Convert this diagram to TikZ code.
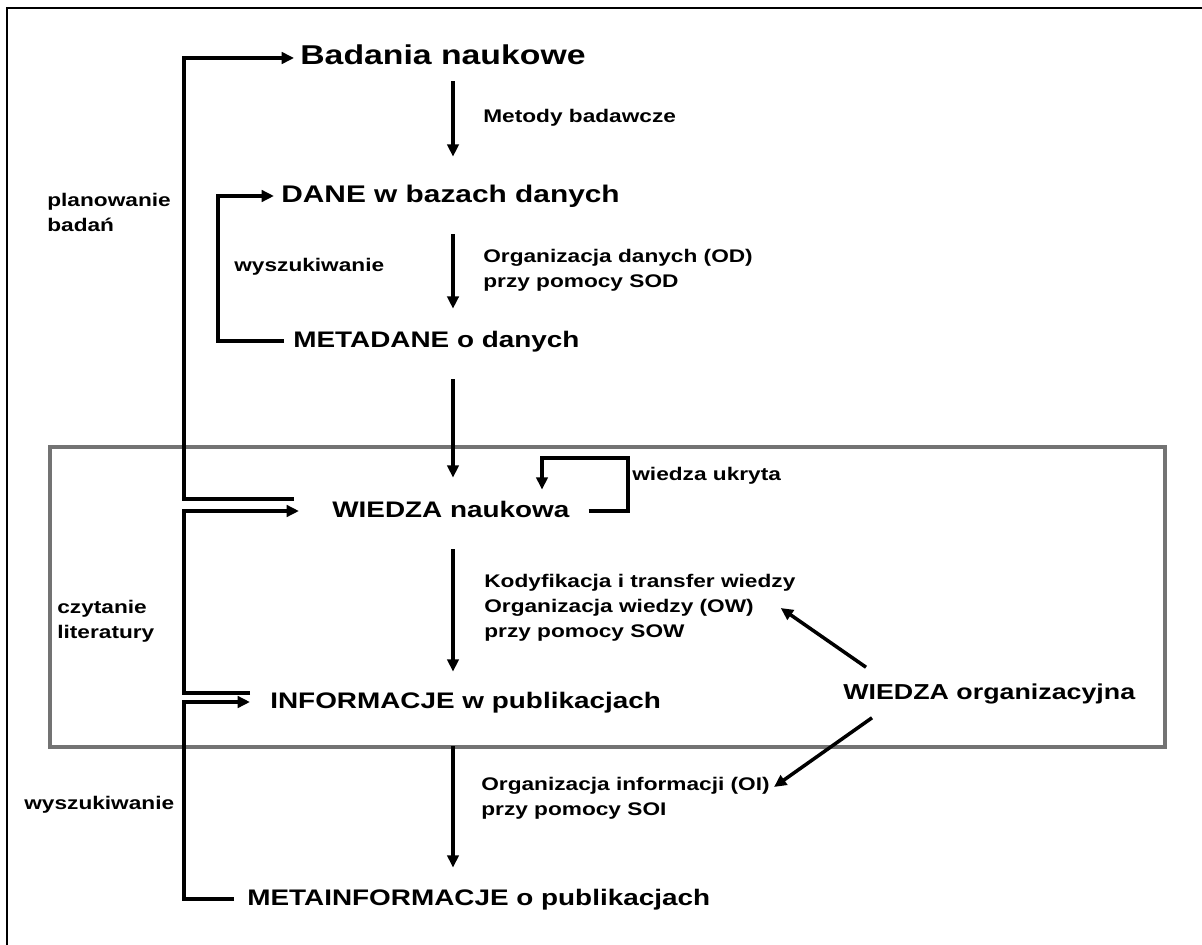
\documentclass[tikz,border=0pt]{standalone}
\usepackage{fontspec}
\setmainfont[FakeStretch=1.24]{Liberation Sans}
\usetikzlibrary{arrows.meta, positioning, calc}
\tikzset{
	main/.style={anchor=west, inner sep=0pt, text height=10pt, text depth=3pt,
		font=\fontsize{12.8}{15}\selectfont\bfseries},
	lbl/.style={anchor=west, inner sep=0pt, align=left,
		font=\fontsize{10.4}{14.2}\selectfont\bfseries},
	arr/.style={-{Triangle[length=7pt, width=6.5pt]}, line width=2pt},
	graybox/.style={draw=black!55, line width=1.8pt},
	frame/.style={line width=1.4pt},
}
\begin{document}
\begin{tikzpicture}[x=0.02cm, y=-0.02cm]
	\useasboundingbox (0,0) rectangle (1202,945);
	\draw[frame] (7,945) |- (1202,8);
	\draw[graybox] (50,447) rectangle (1165,747);
	
	\node[main, font=\fontsize{15.5}{18}\selectfont\bfseries] (badania) at (300,58) {Badania naukowe};
	\node[main, font=\fontsize{13.7}{16}\selectfont\bfseries] (dane) at (281,196) {DANE w bazach danych};
	\node[main] (metadane) at (293,341) {METADANE o danych};
	\node[main] (wiedza) at (332,511) {WIEDZA naukowa};
	\node[main] (informacje) at (270,702) {INFORMACJE w publikacjach};
	\node[main] (metainf) at (247,899) {METAINFORMACJE o publikacjach};
	\node[main, font=\fontsize{12.3}{15}\selectfont\bfseries] (wiedzaorg) at (843,693) {WIEDZA organizacyjna};
	
	\node[lbl] (metody) at (483,118) {Metody badawcze};
	\node[lbl] (orgdane) at (483,270) {Organizacja danych (OD)\\przy pomocy SOD};
	\node[lbl] (ukryta) at (632,476) {wiedza ukryta};
	\node[lbl] (kodyf) at (484,608) {Kodyfikacja i transfer wiedzy\\Organizacja wiedzy (OW)\\przy pomocy SOW};
	\node[lbl] (orginf) at (481,798) {Organizacja informacji (OI)\\przy pomocy SOI};
	\node[lbl] (planowanie) at (47,212) {planowanie\\badań};
	\node[lbl] (wyszukdane) at (234,267) {wyszukiwanie};
	\node[lbl] (czytanie) at (57,621) {czytanie\\literatury};
	\node[lbl] (wyszukpubl) at (24,805) {wyszukiwanie};
	
	\coordinate (ax) at (453,0);
	\coordinate (lx) at (184,0);
	\coordinate (lx2) at (218,0);
	\coordinate (loopr) at (628,458);
	\coordinate (loopl) at (542,458);
	
	% main flow
	\draw[arr, shorten <=6.6pt, shorten >=15.7pt] (badania.south -| ax) -- (dane.north -| ax);
	\draw[arr, shorten <=15.1pt, shorten >=11.7pt] (dane.south -| ax) -- (metadane.north -| ax);
	\draw[arr, shorten <=15.1pt, shorten >=12.3pt] (metadane.south -| ax) -- (wiedza.north -| ax);
	\draw[arr, shorten <=15.1pt, shorten >=10.6pt] (wiedza.south -| ax) -- (informacje.north -| ax);
	\draw[arr, shorten <=18.5pt, shorten >=11.2pt] (informacje.south -| ax) -- (metainf.north -| ax);
	
	% loops on the left
	\draw[arr, shorten >=3.4pt] ($(wiedza.west)+(-38,-12)$) -| (lx |- badania.west) -- (badania.west);
	\draw[arr, shorten <=5pt, shorten >=4pt] (metadane.west) -| (lx2 |- dane.west) -- (dane.west);
	\draw[arr, shorten >=18.8pt] ($(informacje.west)+(-20,-9)$) -| (lx |- wiedza.west) -- (wiedza.west);
	\draw[arr, shorten <=7.4pt, shorten >=11.4pt] (metainf.west) -| (lx |- informacje.west) -- (informacje.west);
	
	% wiedza ukryta
	\draw[arr, shorten <=10.8pt, shorten >=5.5pt] (wiedza.east) -| (loopr) -- (loopl) -- (loopl |- wiedza.north);
	
	% wiedza organizacyjna
	\draw[arr] ($(wiedzaorg.north west)+(23,-14)$) -- ($(kodyf.east)+(-15,0)$);
	\draw[arr] ($(wiedzaorg.south west)+(29,13)$) -- ($(orginf.east)+(4,-11)$);
	
\end{tikzpicture}
\end{document}
